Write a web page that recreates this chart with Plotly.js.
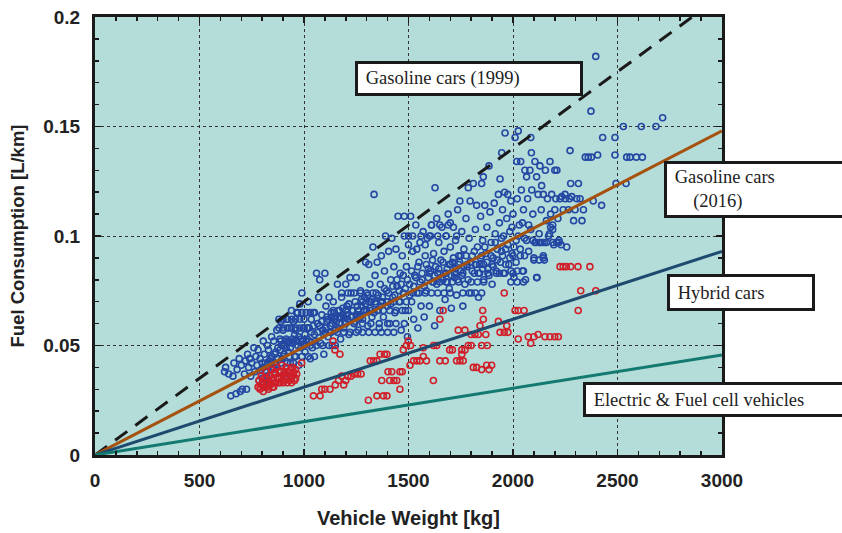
<!DOCTYPE html>
<html>
<head>
<meta charset="utf-8">
<script src="https://cdn.plot.ly/plotly-3.0.1.min.js"></script>
<style>html,body{margin:0;padding:0;background:#fff;}#chart{width:842px;height:533px;}</style>
</head>
<body>
<div id="chart"></div>
<script>
// Gasoline cars (blue) : [vehicle weight kg, fuel consumption L/km]
const bluePoints = [
[620,0.038],[625,0.040],[640,0.037],[650,0.027],[660,0.036],[665,0.042],[675,0.028],[680,0.039],[690,0.044],[695,0.029],[700,0.041],[705,0.030],[715,0.037],[720,0.043],[725,0.030],[730,0.046],[735,0.040],[740,0.044],[745,0.036],[750,0.042],[760,0.049],[765,0.038],[770,0.045],[775,0.041],[780,0.048],[785,0.034],[790,0.044],[795,0.039],[800,0.035],[805,0.052],[810,0.046],[815,0.042],[820,0.036],[825,0.050],[830,0.048],[835,0.033],[840,0.044],[845,0.054],[850,0.039],[855,0.052],[860,0.046],[865,0.041],[870,0.057],[875,0.049],[880,0.035],[885,0.053],[890,0.061],[895,0.044],[900,0.057],[905,0.050],[910,0.037],[915,0.053],[920,0.062],[925,0.047],[930,0.058],[935,0.042],[940,0.066],[945,0.053],[950,0.061],[955,0.045],[960,0.057],[965,0.065],[970,0.050],[975,0.041],[980,0.069],[985,0.053],[990,0.074],[995,0.058],[1000,0.062],[1005,0.047],[1010,0.065],[1015,0.053],[1020,0.070],[1025,0.058],[1030,0.044],[1035,0.062],[1040,0.049],[1045,0.065],[1050,0.055],[1060,0.083],[1065,0.060],[1070,0.072],[1075,0.080],[1080,0.051],[1085,0.064],[1090,0.057],[1095,0.046],[1100,0.083],[1105,0.068],[1110,0.061],[1115,0.054],[1120,0.072],[1125,0.059],[1130,0.065],[1135,0.050],[1140,0.070],[1145,0.062],[1150,0.057],[1160,0.078],[1165,0.066],[1170,0.060],[1175,0.053],[1180,0.072],[1185,0.064],[1190,0.058],[1200,0.078],[1205,0.068],[1210,0.062],[1215,0.055],[1220,0.081],[1225,0.074],[1230,0.066],[1240,0.060],[1245,0.070],[1250,0.081],[1255,0.064],[1260,0.057],[1270,0.075],[1275,0.068],[1280,0.062],[1290,0.072],[1295,0.088],[1300,0.066],[1305,0.059],[1310,0.087],[1315,0.078],[1320,0.070],[1325,0.063],[1330,0.095],[1335,0.119],[1340,0.082],[1345,0.074],[1350,0.088],[1355,0.066],[1360,0.058],[1365,0.078],[1370,0.091],[1375,0.070],[1380,0.063],[1385,0.084],[1390,0.100],[1395,0.075],[1400,0.068],[1405,0.093],[1410,0.060],[1415,0.080],[1420,0.099],[1425,0.072],[1430,0.086],[1435,0.065],[1440,0.094],[1445,0.077],[1450,0.109],[1455,0.070],[1460,0.083],[1465,0.057],[1470,0.091],[1475,0.074],[1480,0.109],[1485,0.066],[1490,0.086],[1495,0.054],[1500,0.100],[1505,0.078],[1510,0.109],[1515,0.070],[1520,0.093],[1525,0.062],[1530,0.082],[1535,0.105],[1540,0.074],[1545,0.058],[1550,0.088],[1555,0.097],[1560,0.068],[1565,0.080],[1570,0.102],[1575,0.063],[1580,0.091],[1585,0.075],[1590,0.099],[1595,0.085],[1600,0.068],[1605,0.100],[1610,0.105],[1615,0.079],[1620,0.092],[1625,0.059],[1627,0.122],[1630,0.086],[1635,0.108],[1640,0.074],[1645,0.097],[1650,0.066],[1655,0.089],[1660,0.104],[1665,0.080],[1670,0.093],[1675,0.071],[1680,0.100],[1685,0.085],[1690,0.110],[1695,0.076],[1700,0.095],[1705,0.067],[1710,0.088],[1715,0.104],[1720,0.081],[1725,0.098],[1730,0.073],[1735,0.112],[1740,0.091],[1746,0.116],[1750,0.084],[1755,0.102],[1760,0.068],[1765,0.094],[1770,0.078],[1775,0.108],[1780,0.086],[1786,0.122],[1790,0.099],[1795,0.116],[1800,0.074],[1805,0.091],[1810,0.124],[1815,0.083],[1820,0.103],[1826,0.114],[1830,0.095],[1835,0.072],[1840,0.087],[1845,0.109],[1850,0.124],[1855,0.098],[1858,0.127],[1860,0.080],[1865,0.114],[1870,0.092],[1875,0.104],[1880,0.085],[1885,0.132],[1890,0.111],[1895,0.097],[1900,0.078],[1905,0.090],[1910,0.115],[1915,0.101],[1920,0.084],[1925,0.094],[1930,0.119],[1935,0.106],[1938,0.126],[1940,0.088],[1945,0.099],[1946,0.138],[1950,0.112],[1955,0.083],[1960,0.120],[1962,0.147],[1965,0.094],[1970,0.108],[1975,0.119],[1980,0.087],[1985,0.102],[1990,0.116],[1995,0.092],[2000,0.110],[2005,0.081],[2010,0.145],[2015,0.098],[2018,0.134],[2020,0.117],[2025,0.148],[2030,0.105],[2035,0.091],[2037,0.134],[2040,0.121],[2045,0.084],[2050,0.112],[2055,0.099],[2057,0.130],[2060,0.080],[2065,0.127],[2070,0.117],[2075,0.105],[2081,0.130],[2085,0.145],[2088,0.138],[2090,0.121],[2095,0.110],[2100,0.090],[2105,0.134],[2110,0.097],[2113,0.127],[2115,0.081],[2120,0.119],[2125,0.101],[2129,0.132],[2135,0.112],[2137,0.123],[2140,0.097],[2145,0.119],[2150,0.089],[2155,0.130],[2160,0.107],[2165,0.117],[2170,0.100],[2177,0.134],[2180,0.110],[2185,0.119],[2190,0.103],[2195,0.096],[2200,0.130],[2205,0.117],[2210,0.130],[2215,0.108],[2220,0.098],[2225,0.117],[2233,0.118],[2240,0.112],[2249,0.119],[2257,0.095],[2265,0.112],[2273,0.139],[2276,0.124],[2281,0.118],[2290,0.107],[2297,0.112],[2305,0.117],[2313,0.124],[2321,0.117],[2330,0.107],[2337,0.112],[2346,0.136],[2360,0.136],[2373,0.157],[2375,0.136],[2384,0.116],[2396,0.182],[2405,0.137],[2424,0.114],[2429,0.145],[2488,0.145],[2488,0.137],[2493,0.124],[2528,0.150],[2541,0.124],[2544,0.136],[2560,0.136],[2590,0.136],[2614,0.150],[2619,0.136],[2684,0.150],[2716,0.154],
[805,0.040],[815,0.038],[825,0.041],[835,0.043],[845,0.045],[855,0.040],[865,0.047],[875,0.044],[885,0.048],[895,0.050],[905,0.046],[915,0.049],[925,0.052],[935,0.049],[945,0.051],[955,0.055],[965,0.052],[975,0.054],[985,0.049],[995,0.052],[1005,0.055],[1015,0.058],[1025,0.052],[1035,0.056],[1045,0.059],[1055,0.052],[1065,0.056],[1075,0.059],[1085,0.061],[1095,0.055],[1105,0.058],[1115,0.062],[1125,0.056],[1135,0.060],[1145,0.065],[1155,0.061],[1165,0.058],[1175,0.063],[1185,0.067],[1195,0.061],[1205,0.064],[1215,0.069],[1225,0.063],[1235,0.066],[1245,0.061],[1255,0.068],[1265,0.064],[1275,0.071],[1285,0.066],[1295,0.069],[1305,0.073],[1315,0.067],[1325,0.071],[1335,0.065],[1345,0.069],[1355,0.073],[1365,0.068],[1375,0.072],[1385,0.076],[1395,0.070],[1405,0.074],[1415,0.069],[1425,0.077],[1435,0.073],[1445,0.080],[1455,0.075],[1465,0.078],[1475,0.082],[1485,0.076],[1495,0.080],[1505,0.073],[1515,0.084],[1525,0.077],[1535,0.081],[1545,0.086],[1555,0.079],[1565,0.083],[1575,0.077],[1585,0.087],[1595,0.081],[1605,0.084],[1615,0.089],[1625,0.082],[1635,0.078],[1645,0.085],[1655,0.081],[1665,0.088],[1675,0.083],[1685,0.079],[1695,0.087],[1705,0.082],[1715,0.090],[1725,0.085],[1735,0.080],[1745,0.088],[1755,0.082],[1765,0.086],[1775,0.091],[1785,0.080],[1795,0.088],[1805,0.084],[1815,0.093],[1825,0.087],[1835,0.083],[1845,0.090],[1855,0.085],[1865,0.095],[1875,0.088],[1885,0.082],[1895,0.091],[1905,0.086],[1915,0.097],[1925,0.089],[1935,0.083],[1945,0.093],[1955,0.100],[1965,0.087],[1975,0.096],[1985,0.090],[1995,0.104],[2005,0.095],[2015,0.088],[2025,0.100],[2035,0.094],[2045,0.106],[2055,0.091],[2065,0.098],[2075,0.093],[2085,0.103],[2095,0.098],[2105,0.097],[2125,0.097],[2145,0.090],[2160,0.097],[2175,0.101],[2190,0.105],[2209,0.097],[2230,0.096],
[890,0.052],[910,0.052],[930,0.052],[950,0.052],[970,0.052],[990,0.052],[1010,0.052],
[880,0.058],[900,0.058],[920,0.058],[940,0.058],[960,0.058],[980,0.058],[1000,0.058],[1020,0.058],
[880,0.062],[900,0.062],[920,0.062],[940,0.062],[960,0.062],[980,0.062],
[970,0.065],[990,0.065],[1030,0.065],[1050,0.065],
[1110,0.063],[1130,0.063],[1150,0.063],[1170,0.063],[1190,0.063],[1230,0.063],[1250,0.063],[1270,0.063],
[1140,0.066],[1170,0.066],[1200,0.066],[1260,0.066],[1290,0.066],[1320,0.066],[1350,0.066],[1380,0.066],[1410,0.066],[1440,0.066],[1470,0.066],[1500,0.066],
[1280,0.070],[1310,0.070],[1340,0.070],[1370,0.070],[1400,0.070],[1430,0.070],[1460,0.070],[1490,0.070],
[1180,0.074],[1210,0.074],[1240,0.074],[1270,0.074],[1300,0.074],[1330,0.074],[1520,0.074],[1550,0.074],[1580,0.074],[1610,0.074],[1670,0.074],[1700,0.074],[1760,0.074],[1790,0.074],[1820,0.074],[1850,0.074],
[1620,0.079],[1650,0.079],[1680,0.079],[1710,0.079],[1740,0.079],[1800,0.079],[1830,0.079],[1860,0.079],
[1600,0.083],[1640,0.083],[1680,0.083],[1720,0.083],[1760,0.083],[1840,0.083],[1880,0.083],[1920,0.083],[1960,0.083],[2000,0.083],
[1700,0.087],[1740,0.087],[1780,0.087],[1820,0.087],[1860,0.087],[1900,0.087],
[1750,0.091],[1850,0.091],[1950,0.091],[2000,0.091],
[1100,0.056],[1130,0.056],[1160,0.056],[1190,0.056],[1220,0.056],[1250,0.056],[1280,0.056],[1310,0.056],[1340,0.056],[1370,0.056],[1400,0.056],[1430,0.056],
[1200,0.060],[1240,0.060],[1280,0.060],[1320,0.060],[1360,0.060],[1400,0.060],[1440,0.060],[1480,0.060],
[1000,0.050],[1030,0.050],[1060,0.050],[1090,0.050],[1120,0.050],[1150,0.050],
[900,0.045],[930,0.045],[960,0.045],[990,0.045],[1020,0.045],[1050,0.045],
[800,0.042],[830,0.042],[860,0.042],[890,0.042],[920,0.042],[950,0.042],
[1480,0.100],[1520,0.100],[1560,0.100],[1600,0.100],[1640,0.100],[1680,0.100],
[1610,0.105],[1650,0.105],[1690,0.105],[1500,0.096],[1540,0.094],[1580,0.096],[1700,0.106],[1730,0.100],
[1990,0.079],[2020,0.079],[2050,0.079],[1990,0.084],[2020,0.084],[2050,0.084],[2100,0.089],[2125,0.089],[2145,0.091],[2113,0.081],
[2130,0.097],[2150,0.097],[2190,0.097],[2220,0.097],[2180,0.104],[2200,0.112],[2250,0.117],[2270,0.117]
];
// Hybrid cars (red)
const redPoints = [
[780,0.031],[785,0.034],[790,0.030],[795,0.036],[800,0.032],[805,0.029],[810,0.035],[815,0.031],[820,0.038],[825,0.033],[830,0.030],[835,0.036],[840,0.032],[845,0.039],[850,0.034],[855,0.031],[860,0.037],[865,0.033],[870,0.040],[875,0.035],[880,0.038],[885,0.033],[890,0.036],[895,0.041],[900,0.034],[905,0.038],[910,0.036],[915,0.040],[920,0.035],[925,0.038],[930,0.034],[935,0.039],[940,0.036],[945,0.040],[950,0.037],[955,0.034],[960,0.039],[965,0.037],[989,0.042],[1045,0.027],[1077,0.027],[1085,0.030],[1100,0.030],[1124,0.030],[1139,0.052],[1148,0.048],[1150,0.032],[1165,0.034],[1172,0.046],[1180,0.036],[1190,0.032],[1200,0.034],[1210,0.036],[1225,0.036],[1241,0.037],[1257,0.037],[1273,0.037],[1308,0.025],[1317,0.043],[1333,0.043],[1349,0.027],[1349,0.043],[1364,0.046],[1372,0.034],[1380,0.027],[1385,0.046],[1397,0.027],[1397,0.046],[1402,0.038],[1410,0.034],[1420,0.038],[1430,0.034],[1444,0.034],[1459,0.038],[1459,0.030],[1470,0.038],[1475,0.048],[1490,0.050],[1499,0.052],[1507,0.041],[1510,0.050],[1524,0.043],[1540,0.043],[1555,0.043],[1571,0.045],[1571,0.049],[1586,0.043],[1619,0.034],[1620,0.050],[1635,0.050],[1650,0.062],[1650,0.043],[1666,0.066],[1676,0.043],[1697,0.048],[1710,0.048],[1730,0.043],[1738,0.057],[1746,0.043],[1755,0.046],[1755,0.048],[1762,0.043],[1770,0.057],[1770,0.048],[1786,0.050],[1800,0.055],[1800,0.050],[1810,0.040],[1818,0.055],[1826,0.040],[1834,0.055],[1842,0.059],[1850,0.039],[1850,0.050],[1855,0.066],[1858,0.062],[1870,0.055],[1874,0.041],[1877,0.050],[1885,0.039],[1898,0.041],[1930,0.061],[1938,0.056],[1958,0.074],[1958,0.056],[1970,0.059],[1976,0.056],[2010,0.066],[2025,0.066],[2025,0.053],[2053,0.066],[2073,0.054],[2085,0.051],[2100,0.054],[2120,0.055],[2153,0.054],[2177,0.054],[2200,0.054],[2217,0.054],[2225,0.086],[2240,0.086],[2255,0.086],[2276,0.086],[2311,0.086],[2312,0.066],[2324,0.075],[2368,0.086],[2396,0.075],
[790,0.031],[810,0.031],[830,0.031],[850,0.031],
[800,0.033],[820,0.033],[840,0.033],[860,0.033],[880,0.033],[900,0.033],[920,0.033],[940,0.033],
[820,0.035],[850,0.035],[880,0.035],[910,0.035],[940,0.035],[960,0.035],
[860,0.038],[890,0.038],[920,0.038],[950,0.038]
];
// Trend lines: weight endpoints and fuel consumption at those weights
const lineWeight = [0, 3000];
const gasoline1999 = [0, 0.210];
const gasoline2016 = [0, 0.148];
const hybridLine = [0, 0.093];
const electricLine = [0, 0.0457];
const xTicks = [0, 500, 1000, 1500, 2000, 2500, 3000];
const yTicks = [0, 0.05, 0.1, 0.15, 0.2];
const yTickText = ['0', '0.05', '0.1', '0.15', '0.2'];
const labels = ['\u00a0Gasoline cars (1999)', '\u00a0Gasoline cars<br>\u00a0\u00a0\u00a0\u00a0\u00a0(2016)', '\u00a0Hybrid cars', '\u00a0Electric &amp; Fuel cell vehicles'];

const mk = (pts, color) => ({
  type: 'scatter', mode: 'markers',
  x: pts.map(p => p[0]), y: pts.map(p => p[1]),
  marker: {symbol: 'circle-open', size: 6, color: color, line: {width: 1.6, color: color}},
  hoverinfo: 'skip', showlegend: false
});
const ln = (y, color, dash) => ({
  type: 'scatter', mode: 'lines', x: lineWeight, y: y,
  line: {color: color, width: 3, dash: dash || 'solid'},
  hoverinfo: 'skip', showlegend: false
});

const data = [
  mk(bluePoints, '#2347a3'),
  mk(redPoints, '#d11f2a'),
  ln(gasoline1999, '#1a1a1a', '15px,10px'),
  ln(gasoline2016, '#a6520f'),
  ln(hybridLine, '#1d4a6e'),
  ln(electricLine, '#137a72')
];

const W = 627, H = 438;
const px = x => (x - 95) / W;
const py = y => (455 - y) / H;
const box = (text, x, y, w, h) => ({
  xref: 'paper', yref: 'paper', x: px(x), y: py(y), xanchor: 'left', yanchor: 'top',
  text: text, showarrow: false, align: 'left', width: w, height: h, valign: 'middle',
  bgcolor: '#ffffff', bordercolor: '#1a1a1a', borderwidth: 3, borderpad: 3,
  font: {family: 'Liberation Serif, Times New Roman, serif', size: 18.5, color: '#222'}
});

const tickFont = {family: 'Liberation Sans, Arial, sans-serif', size: 19, color: '#222', weight: 'bold'};

const layout = {
  width: 842, height: 533,
  margin: {l: 95, r: 120, t: 17, b: 78},
  paper_bgcolor: '#ffffff', plot_bgcolor: '#b4dcd9',
  xaxis: {
    range: [0, 3000], tickvals: xTicks, ticktext: xTicks.map(String),
    showline: true, linewidth: 3, linecolor: '#1a1a1a', mirror: 'allticks',
    ticks: 'inside', ticklen: 6, tickwidth: 1.5, tickcolor: '#1a1a1a',
    minor: {dtick: 100, ticks: 'inside', ticklen: 4, tickwidth: 1.5, tickcolor: '#1a1a1a', showgrid: false},
    showgrid: true, gridcolor: '#333', griddash: 'dot', gridwidth: 1,
    zeroline: false, tickfont: tickFont, ticklabelstandoff: 6,
    title: {text: 'Vehicle Weight [kg]', font: {family: 'Liberation Sans, Arial, sans-serif', size: 20, color: '#222', weight: 'bold'}, standoff: 22}
  },
  yaxis: {
    range: [0, 0.2], tickvals: yTicks, ticktext: yTickText,
    showline: true, linewidth: 3, linecolor: '#1a1a1a', mirror: 'allticks',
    ticks: 'inside', ticklen: 6, tickwidth: 1.5, tickcolor: '#1a1a1a',
    minor: {dtick: 0.01, ticks: 'inside', ticklen: 4, tickwidth: 1.5, tickcolor: '#1a1a1a', showgrid: false},
    showgrid: true, gridcolor: '#333', griddash: 'dot', gridwidth: 1,
    zeroline: false, tickfont: tickFont, ticklabelstandoff: 8,
    title: {text: 'Fuel Consumption [L/km]', font: {family: 'Liberation Sans, Arial, sans-serif', size: 18.5, color: '#222', weight: 'bold'}, standoff: 14}
  },
  annotations: [
    box(labels[0], 355, 61, 216, 23),
    box(labels[1], 664, 161, 230, 45),
    box(labels[2], 667, 274, 136, 25),
    box(labels[3], 583, 382, 270, 23)
  ]
};

Plotly.newPlot('chart', data, layout, {displayModeBar: false, staticPlot: true});
</script>
</body>
</html>
